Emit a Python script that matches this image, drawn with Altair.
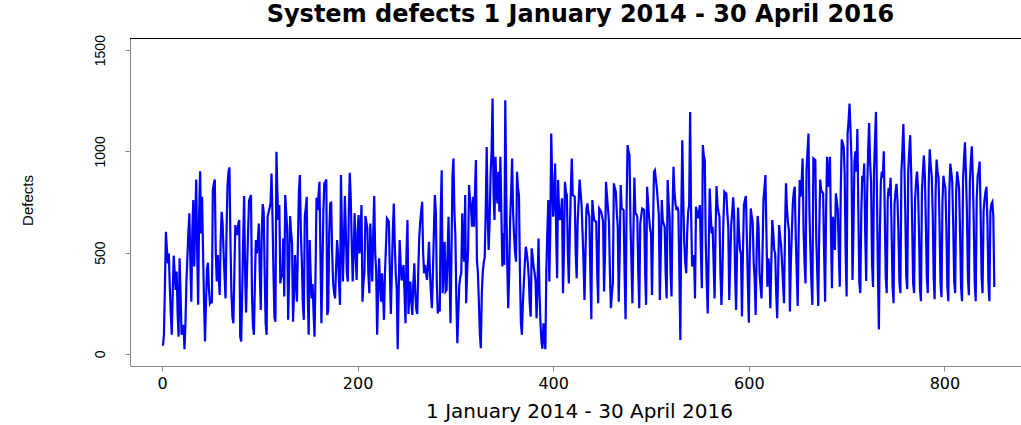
import altair as alt
import pandas as pd

# Daily system defects, 1 Jan 2014 - 30 Apr 2016
defects_2014 = [
    40, 95, 330, 603, 520, 447, 496, 330, 200, 94,
    300, 485, 400, 316, 406, 200, 85, 472, 300, 94,
    120, 143, 23, 150, 357, 480, 600, 694, 450, 258,
    600, 760, 431, 650, 861, 500, 242, 700, 902, 595,
    776, 500, 250, 61, 250, 420, 450, 320, 250, 260,
    250, 809, 840, 861, 500, 357, 488, 380, 291, 560,
    702, 644, 500, 380, 274, 600, 830, 899, 921, 554,
    300, 184, 151, 400, 636, 600, 587, 640, 661, 85,
    61, 300, 562, 779, 400, 204, 420, 595, 756, 770,
    784, 300, 135, 94, 350, 562, 496, 560, 644, 400,
    217, 600, 740, 702, 400, 150, 94, 677, 700, 720,
    743, 891, 677, 400, 180, 159, 998, 800, 661, 735,
    348, 380, 390, 570, 283, 784, 700, 620, 168, 400,
    681, 600, 546, 159, 300, 488, 350, 258, 550, 800,
    883, 600, 455, 250, 168, 677, 720, 776, 300, 94,
    562, 400, 274, 345, 200, 85, 400, 771, 710, 780,
    850, 500, 151, 400, 700, 842, 850, 861, 192, 217,
    600, 743, 746, 500, 348, 300, 274, 420, 562, 496,
    350, 242, 883, 600, 357, 550, 779, 600, 400, 357,
    700, 894, 776, 550, 357, 500, 694, 500, 365, 600,
    686, 496, 600, 735, 258, 350, 406, 681, 650, 620,
    400, 299, 644, 500, 357, 600, 779, 500, 406, 94,
    300, 472, 350, 258, 398, 300, 168, 400, 529, 669,
    661, 653, 400, 197, 400, 600, 743, 550, 400, 324,
    23, 300, 562, 450, 362, 400, 439, 300, 151, 500,
    661, 197, 300, 357, 250, 192, 350, 447, 300, 220,
    197, 400, 570, 650, 700, 751, 500, 398, 439, 400,
    365, 450, 554, 400, 300, 225, 400, 600, 784, 700,
    350, 200, 250, 209, 700, 907, 299, 450, 554, 308,
    316, 500, 677, 400, 151, 500, 874, 965, 700, 579,
    266, 53, 200, 340, 380, 398, 694, 500, 455, 784,
    250, 400, 521, 834, 760, 718, 628, 776, 628, 800,
    957, 463, 400, 258, 100, 28, 300, 406, 450, 480,
    700, 1022, 700, 513, 650, 891, 1000, 1261, 800, 661,
    973, 820, 743, 899, 702, 973, 700, 431, 595, 439,
    1253, 800, 447, 225, 400, 669, 800, 965, 700, 587,
    500, 455, 899, 820, 784,
]
defects_2015 = [
    400, 151, 94, 250, 348,
    450, 529, 496, 450, 381, 250, 184, 521, 480, 431,
    400, 357, 176, 350, 570, 300, 151, 60, 25, 151,
    80, 23, 423, 600, 760, 357, 600, 1088, 850, 677,
    800, 940, 600, 373, 858, 700, 661, 700, 768, 299,
    500, 850, 800, 784, 500, 348, 603, 800, 965, 784,
    780, 776, 500, 373, 653, 750, 861, 800, 735, 600,
    455, 266, 500, 718, 743, 700, 677, 400, 171, 760,
    700, 661, 655, 653, 400, 250, 718, 710, 702, 680,
    653, 308, 500, 850, 780, 718, 653, 400, 225, 300,
    348, 842, 820, 801, 700, 628, 258, 500, 834, 718,
    715, 710, 400, 171, 700, 1031, 1000, 981, 644, 450,
    250, 600, 871, 694, 690, 677, 400, 225, 644, 680,
    718, 715, 710, 400, 242, 825, 750, 677, 620, 595,
    291, 600, 899, 907, 860, 817, 750, 686, 266, 500,
    760, 661, 640, 628, 400, 274, 858, 750, 677, 400,
    283, 700, 924, 800, 743, 710, 727, 702, 398, 69,
    700, 1055, 760, 554, 450, 398, 600, 702, 735, 1195,
    700, 431, 460, 488, 274, 727, 700, 669, 700, 735,
    500, 324, 1031, 980, 957, 546, 350, 200, 500, 817,
    700, 595, 628, 450, 274, 600, 829, 735, 700, 677,
    400, 242, 400, 650, 801, 795, 792, 700, 628, 266,
    450, 636, 700, 773, 686, 400, 217, 500, 723, 600,
    513, 496, 184, 500, 735, 760, 779, 579, 350, 154,
    500, 718, 680, 644, 450, 365, 192, 500, 681, 628,
    400, 332, 274, 500, 760, 820, 883, 600, 332, 472,
    423, 225, 450, 661, 600, 513, 496, 300, 176, 400,
    636, 580, 538, 447, 350, 250, 600, 842, 718, 650,
    611, 209, 450, 600, 743, 800, 825, 579, 400, 237,
    600, 858, 776, 850, 965, 611, 450, 348, 907, 1000,
    1088, 700, 513, 350, 242, 965, 960, 957, 562, 400,
    237, 600, 861, 809, 800, 792, 500, 258, 700, 973,
    825, 900, 973, 600, 324, 677, 600, 513, 792, 750,
    710, 500, 332, 800, 1059, 1040, 1022, 891, 500, 283,
    1088, 1150, 1236, 1100, 957, 365, 600, 950, 1000, 900,
    1110, 700, 350, 300, 700, 880, 850, 940, 600, 360,
    800, 1000, 1140, 950, 850, 450, 330, 900, 1050, 1195,
]
defects_2016 = [
    800, 400, 120, 600, 850, 900, 870, 1000, 700, 380,
    300, 760, 820, 780, 870, 600, 330, 250, 740, 800,
    840, 760, 600, 350, 300, 900, 1000, 1135, 950, 700,
    380, 320, 900, 1000, 1080, 900, 650, 350, 300, 760,
    850, 900, 820, 600, 320, 260, 800, 900, 980, 880,
    650, 380, 300, 850, 1010, 930, 880, 700, 380, 270,
    800, 960, 900, 870, 650, 350, 280, 750, 880, 840,
    820, 620, 330, 260, 800, 940, 900, 850, 640, 360,
    300, 800, 900, 860, 820, 600, 330, 260, 850, 960,
    1045, 900, 700, 380, 290, 850, 950, 1025, 880, 650,
    350, 260, 760, 880, 900, 950, 700, 380, 300, 700,
    760, 800, 825, 650, 350, 260, 700, 740, 750, 680,
    330,
]

x_ticks = [0, 200, 400, 600, 800]
y_ticks = [0, 500, 1000, 1500]
chart_title = "System defects 1 January 2014 - 30 April 2016"
x_title = "1 January 2014 - 30 April 2016"
y_title = "Defects"

values = defects_2014 + defects_2015 + defects_2016
df = pd.DataFrame({"day": list(range(1, len(values) + 1)), "defects": values})

W, H = 891, 328

x_scale = alt.Scale(domain=[-32.7, 878.3], nice=False, zero=False)
y_scale = alt.Scale(domain=[-60, 1560], nice=False, zero=False)

line = alt.Chart(df).mark_line(color="#0000FF", strokeWidth=2.2, clip=True).encode(
    x=alt.X(
        "day:Q",
        scale=x_scale,
        axis=alt.Axis(
            values=x_ticks,
            format="d",
            grid=False,
            title=x_title,
            labelFontSize=16,
            labelFont="DejaVu Sans",
            labelPadding=4,
            titleFont="DejaVu Sans",
            titleFontSize=20,
            titleFontWeight="normal",
            titleBaseline="middle",
            titleY=45,
            titleX=449,
        ),
    ),
    y=alt.Y(
        "defects:Q",
        scale=y_scale,
        axis=alt.Axis(
            values=y_ticks,
            format="d",
            grid=False,
            title=y_title,
            labelAngle=-90,
            labelAlign="center",
            labelBaseline="bottom",
            labelFontSize=14,
            labelFont="Liberation Sans",
            labelPadding=18,
            titleFont="Liberation Sans",
            titleFontSize=15,
            titleFontWeight="normal",
            titleAngle=-90,
            titleAlign="center",
            titleBaseline="middle",
            titleX=-103,
            titleY=162,
        ),
    ),
)

top_edge = alt.Chart(df).mark_rule(color="black", strokeWidth=1).encode(
    x=alt.value(0), x2=alt.value(W), y=alt.value(0.5)
)

chart = (
    alt.layer(line, top_edge)
    .properties(
        width=W,
        height=H,
        autosize=alt.AutoSizeParams(type="none"),
        padding={"left": 130, "top": 38, "right": 0, "bottom": 59},
        title=alt.TitleParams(
            chart_title,
            font="DejaVu Sans",
            fontSize=24,
            fontWeight="bold",
            anchor="middle",
            frame="group",
            dx=5,
            offset=8,
            color="black",
        ),
    )
    .configure_view(stroke=None)
    .configure_axis(
        grid=False,
        domainColor="black",
        domainWidth=1,
        tickColor="black",
        tickSize=7,
        tickWidth=1,
        labelColor="black",
        titleColor="black",
    )
    .configure(background="white")
)

chart.save("out.html", embed_options={"renderer": "svg", "actions": False})
